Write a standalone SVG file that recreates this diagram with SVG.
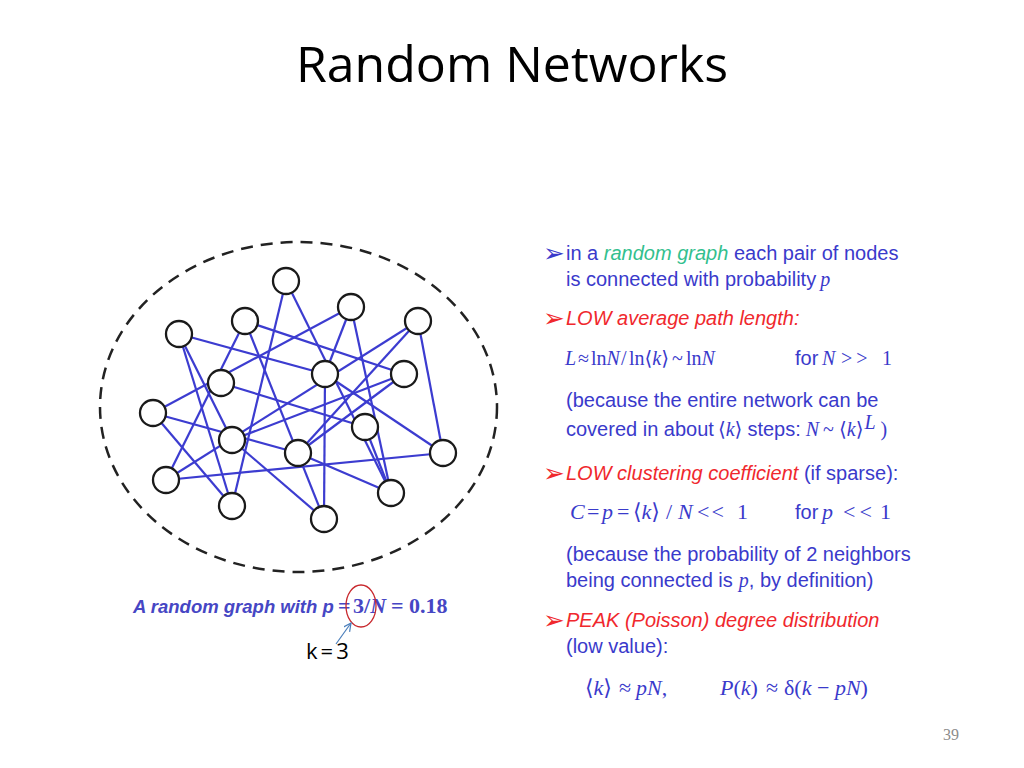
<svg xmlns="http://www.w3.org/2000/svg" width="1024" height="768" viewBox="0 0 1024 768">
<style>
.title{font-family:"Open Sans","Noto Sans",sans-serif;font-size:50px;fill:#000}
.t{font-family:"Liberation Sans",Arial,sans-serif;font-size:20px;fill:#3a3acb}
.m{font-family:"Liberation Serif","DejaVu Serif",serif;font-size:20px;fill:#3a3acb}
.m2{font-family:"Liberation Serif","DejaVu Serif",serif;font-size:22px;fill:#3a3acb}
.i{font-style:italic}
.red{fill:#f0282d;font-style:italic}
.grn{fill:#33bf8e;font-style:italic}
.bul{font-family:"DejaVu Sans",sans-serif;font-size:26px}
.cap{font-family:"Liberation Sans",Arial,sans-serif;font-size:18.5px;font-weight:bold;font-style:italic;fill:#4646c4}
.capm{font-family:"Liberation Serif",serif;font-size:22px;font-weight:bold;fill:#4646c4}
.node circle{fill:#fff;stroke:#1a1a1a;stroke-width:2.3}
#connectors line{stroke:#3c3cd0;stroke-width:2.2}
</style>
<defs>
<marker id="ah" markerWidth="10" markerHeight="10" refX="8" refY="4" orient="auto" markerUnits="userSpaceOnUse">
<path d="M0,0 L8,4 L0,8" fill="none" stroke="#4a7ebb" stroke-width="1.2"/>
</marker>
</defs>
<rect width="1024" height="768" fill="#fff"/>
<text class="title" x="512" y="82" text-anchor="middle">Random Networks</text>

<ellipse id="boundary" cx="298.5" cy="407" rx="198.5" ry="165" fill="none" stroke="#222" stroke-width="2.5" stroke-dasharray="12 8"/>

<g id="connectors">
<line x1="286" y1="281" x2="232" y2="506"/>
<line x1="286" y1="281" x2="391" y2="493"/>
<line x1="351" y1="307" x2="153" y2="413"/>
<line x1="351" y1="307" x2="325" y2="374"/>
<line x1="351" y1="307" x2="391" y2="493"/>
<line x1="245" y1="321" x2="404" y2="374"/>
<line x1="245" y1="321" x2="166" y2="480"/>
<line x1="245" y1="321" x2="324" y2="519"/>
<line x1="418" y1="321" x2="166" y2="480"/>
<line x1="418" y1="321" x2="298" y2="453"/>
<line x1="418" y1="321" x2="443" y2="453"/>
<line x1="179" y1="334" x2="325" y2="374"/>
<line x1="179" y1="334" x2="232" y2="440"/>
<line x1="179" y1="334" x2="232" y2="506"/>
<line x1="325" y1="374" x2="324" y2="519"/>
<line x1="325" y1="374" x2="443" y2="453"/>
<line x1="404" y1="374" x2="232" y2="440"/>
<line x1="404" y1="374" x2="298" y2="453"/>
<line x1="221" y1="383" x2="365" y2="427"/>
<line x1="153" y1="413" x2="298" y2="453"/>
<line x1="153" y1="413" x2="232" y2="506"/>
<line x1="232" y1="440" x2="324" y2="519"/>
<line x1="298" y1="453" x2="391" y2="493"/>
<line x1="166" y1="480" x2="443" y2="453"/>
<line x1="365" y1="427" x2="391" y2="493"/>
</g>

<g id="nA" class="node"><circle cx="286" cy="281" r="13"/></g>
<g id="nB" class="node"><circle cx="351" cy="307" r="13"/></g>
<g id="nC" class="node"><circle cx="245" cy="321" r="13"/></g>
<g id="nD" class="node"><circle cx="418" cy="321" r="13"/></g>
<g id="nE" class="node"><circle cx="179" cy="334" r="13"/></g>
<g id="nF" class="node"><circle cx="325" cy="374" r="13"/></g>
<g id="nG" class="node"><circle cx="404" cy="374" r="13"/></g>
<g id="nH" class="node"><circle cx="221" cy="383" r="13"/></g>
<g id="nI" class="node"><circle cx="153" cy="413" r="13"/></g>
<g id="nJ" class="node"><circle cx="365" cy="427" r="13"/></g>
<g id="nK" class="node"><circle cx="232" cy="440" r="13"/></g>
<g id="nL" class="node"><circle cx="298" cy="453" r="13"/></g>
<g id="nM" class="node"><circle cx="443" cy="453" r="13"/></g>
<g id="nN" class="node"><circle cx="166" cy="480" r="13"/></g>
<g id="nO" class="node"><circle cx="391" cy="493" r="13"/></g>
<g id="nP" class="node"><circle cx="232" cy="506" r="13"/></g>
<g id="nQ" class="node"><circle cx="324" cy="519" r="13"/></g>

<g id="caption">
<text class="cap" x="133" y="613">A random graph with p</text>
<text class="capm" x="338" y="613">=</text>
<text class="capm" x="353" y="613">3/<tspan font-style="italic">N</tspan></text>
<text class="capm" x="391" y="613">= 0.18</text>
<ellipse cx="361" cy="606" rx="15" ry="21" fill="none" stroke="#c8282d" stroke-width="1.3"/>
<line x1="336" y1="644" x2="351" y2="623" stroke="#4a7ebb" stroke-width="1.2" marker-end="url(#ah)"/>
<text x="306" y="659" font-family="Open Sans, Noto Sans, sans-serif" font-size="22" fill="#000" letter-spacing="3">k=3</text>
</g>

<g id="bullets">
<text class="bul" x="543" y="262" fill="#3a3acb">➢</text>
<text class="t" x="566" y="260">in a <tspan class="grn">random graph</tspan> each pair of nodes</text>
<text class="t" x="566" y="286">is connected with probability<tspan class="m i" dx="4">p</tspan></text>

<text class="bul" x="543" y="327" fill="#f0282d">➢</text>
<text class="t red" x="566" y="325">LOW average path length:</text>

<text class="m" y="365"><tspan x="565" class="i">L</tspan><tspan x="578">≈</tspan><tspan x="591">ln</tspan><tspan class="i">N</tspan><tspan x="621">/</tspan><tspan x="629">ln⟨</tspan><tspan class="i">k</tspan><tspan>⟩</tspan><tspan x="672">~</tspan><tspan x="686">ln</tspan><tspan class="i">N</tspan></text>
<text class="t" x="795" y="365">for</text>
<text class="m" y="365"><tspan x="822" class="i">N</tspan><tspan x="841" letter-spacing="4">&gt;&gt;</tspan><tspan x="882">1</tspan></text>

<text class="t" x="566" y="407">(because the entire network can be</text>
<text class="t" x="566" y="436">covered in about<tspan class="m" dx="4">⟨<tspan class="i">k</tspan>⟩</tspan><tspan dx="5">steps:</tspan><tspan class="m i" dx="5">N</tspan><tspan class="m" dx="4">~</tspan><tspan class="m" dx="5">⟨<tspan class="i">k</tspan>⟩</tspan><tspan class="m i" font-size="12" dy="-7" dx="1">L</tspan><tspan class="m" dy="7" dx="5">)</tspan></text>

<text class="bul" x="543" y="482" fill="#f0282d">➢</text>
<text class="t" x="566" y="480"><tspan class="red">LOW clustering coefficient</tspan> (if sparse):</text>

<text class="m2" y="519"><tspan x="570" class="i">C</tspan><tspan x="587">=</tspan><tspan x="602" class="i">p</tspan><tspan x="617">=</tspan><tspan x="633">⟨</tspan><tspan class="i">k</tspan><tspan>⟩</tspan><tspan x="666">/</tspan><tspan x="678" class="i">N</tspan><tspan x="697" letter-spacing="2">&lt;&lt;</tspan><tspan x="737">1</tspan></text>
<text class="t" x="795" y="519">for</text>
<text class="m2" y="519"><tspan x="822" class="i">p</tspan><tspan x="843" letter-spacing="4">&lt;&lt;</tspan><tspan x="880">1</tspan></text>

<text class="t" x="566" y="561">(because the probability of 2 neighbors</text>
<text class="t" x="566" y="587">being connected is<tspan class="m i" dx="6">p</tspan>, by definition)</text>

<text class="bul" x="543" y="629" fill="#f0282d">➢</text>
<text class="t red" x="566" y="627">PEAK (Poisson) degree distribution</text>
<text class="t" x="566" y="653">(low value):</text>

<text class="m2" y="695"><tspan x="585">⟨</tspan><tspan class="i">k</tspan><tspan>⟩</tspan><tspan x="619">≈</tspan><tspan x="636" class="i">pN</tspan><tspan>,</tspan><tspan x="720" class="i">P</tspan><tspan>(</tspan><tspan class="i">k</tspan><tspan>)</tspan><tspan x="766">≈</tspan><tspan x="784">δ(</tspan><tspan class="i">k</tspan><tspan> − </tspan><tspan class="i">pN</tspan><tspan>)</tspan></text>
</g>

<text x="943" y="740" font-family="Liberation Serif, serif" font-size="16" fill="#8c8c8c">39</text>
</svg>
